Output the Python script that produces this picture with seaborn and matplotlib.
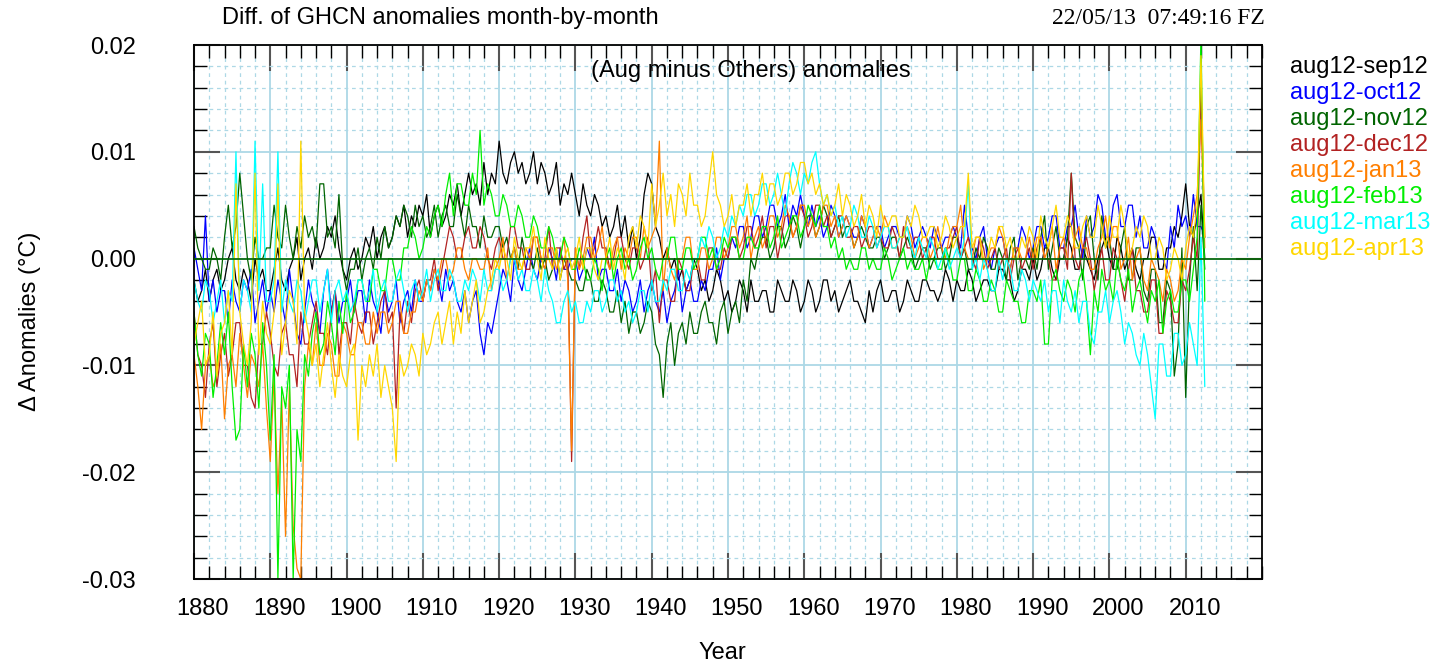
import numpy as np
import pandas as pd
import seaborn as sns
import matplotlib.pyplot as plt
import matplotlib.transforms as mtransforms
from matplotlib.ticker import MultipleLocator, FuncFormatter

# half-yearly readings, units of 1e-3 degC, 1880.0 .. 2012.5
YEARS = np.arange(1880, 2013, 0.5)

aug12_sep12 = [
    -2, -4, -3, -1, -4, -2, -1, -3, -2, 0, 1, -2, -3, -1, -2, -4, 0, -2, -1, -3,
    -3, -1, 1, -2, -3, -1, 0, 2, -2, 0, 1, -1, 2, 0, 1, 3, 2, 4, 1, -1,
    -2, 0, 1, -1, 0, 2, 1, 3, 0, 2, 3, 1, 2, 4, 3, 5, 2, 4, 3, 5,
    4, 6, 2, 4, 5, 3, 4, 6, 5, 7, 4, 6, 8, 6, 7, 5, 9, 6, 8, 7,
    11, 8, 7, 9, 10, 8, 9, 7, 8, 10, 7, 9, 8, 6, 7, 9, 5, 7, 6, 8,
    6, 4, 7, 5, 4, 6, 5, 3, 4, 2, 3, 5, 2, 4, 1, 3, 0, 2, 6, 8,
    7, 3, 2, 0, 1, -1, 0, -2, -1, -3, -2, 0, -1, -3, -2, -4, -3, -1, -2, -4,
    -3, -5, -4, -2, -3, -5, -2, -4, -4, -3, -3, -5, -5, -2, -3, -4, -4, -2, -3, -5,
    -4, -2, -3, -5, -4, -2, -2, -4, -3, -5, -4, -3, -2, -4, -4, -5, -6, -3, -5, -3,
    -2, -4, -4, -3, -3, -5, -4, -2, -3, -4, -4, -2, -2, -3, -3, -4, -3, -1, -2, -4,
    -2, -3, -3, -1, -2, -4, -3, -2, -2, -3, -3, -1, -1, -2, -2, -4, -3, -1, -1, -2,
    0, -2, -1, 1, 1, -1, -2, 0, 0, 2, 1, -1, -1, 1, 0, -1, -2, 0, 1, 2,
    0, -1, 2, 1, -1, 0, 1, -1, -2, 0, 0, 2, 2, -1, -1, 1, 1, 3, 2, 4,
    7, 3, 2, 4, 6, 0]
aug12_oct12 = [
    1, -1, -3, 4, -4, -2, -5, -3, -3, -6, -2, -4, -5, -2, -3, -1, -6, -4, -2, -5,
    -3, -5, -2, -4, -6, -1, -4, -7, -8, -5, -2, -4, -5, -7, -3, -1, -5, -3, -6, -4,
    -4, -2, -5, -3, -3, -6, -2, -4, -5, -7, -3, -5, -4, -2, -6, -4, -3, -5, -2, -4,
    -4, -2, -3, -1, -2, -4, -1, -3, -2, -4, -5, -3, -6, -4, -3, -7, -9, -6, -7, -5,
    -3, -1, -2, -4, 0, -2, -3, -1, 1, -1, -2, 0, -1, 1, 0, -2, 1, -1, -1, 0,
    0, -2, -1, 1, 0, 2, -2, -1, -1, -3, -3, -1, -4, -2, -3, -5, -4, -2, -5, -3,
    -2, -4, -5, -3, -6, -4, -3, -1, -5, -3, -2, -4, -4, -2, -3, -1, -1, 1, -2, 0,
    0, 2, 1, 3, 3, 1, 2, 4, 4, 2, 3, 5, 5, 3, 4, 6, 3, 5, 4, 6,
    4, 3, 5, 3, 4, 2, 3, 5, 4, 2, 3, 4, 3, 2, 2, 4, 3, 1, 2, 3,
    3, 1, 2, 3, 3, 2, 2, 4, 3, 1, 2, 3, 2, 1, 3, 2, 1, 2, 2, 3,
    2, 1, 5, 2, 1, 0, 2, 3, 0, -1, 1, 2, 2, 0, -1, 1, 1, 3, 2, 0,
    1, 3, 3, 1, 2, 4, 4, 1, 1, 3, 3, 5, 2, 0, 4, 2, 3, 6, 5, 2,
    2, 5, 6, 3, 3, 5, 5, 2, 4, 1, 1, 3, 2, 0, 0, -1, 3, 1, 5, 3,
    4, 2, 6, 3, 3, 2]
aug12_nov12 = [
    3, 1, 0, -1, -1, 1, 0, -2, 2, 5, 1, 3, 8, 4, 0, -2, 2, 0, 0, 1,
    1, 5, 2, 1, 5, 2, 0, 3, 1, 4, 2, 3, 1, 7, 7, 2, 3, 1, 6, -1,
    -3, -1, -1, 1, -2, 0, 1, -1, 2, 0, 3, 1, 2, 4, 3, 5, 4, 2, 5, 3,
    4, 2, 3, 5, 2, 4, 5, 3, 3, 6, 4, 2, 5, 3, 3, 1, 4, 2, 2, 3,
    3, 1, 2, 0, 1, -1, 2, 0, 0, -1, 1, -1, 0, -2, -1, 1, -2, 0, -1, -2,
    -2, -3, -3, -1, -2, -4, -4, -2, -3, -5, -5, -3, -6, -4, -7, -5, -5, -7, -6, -4,
    -5, -8, -9, -13, -8, -6, -10, -7, -6, -8, -5, -7, -7, -5, -4, -6, -6, -8, -5, -4,
    -7, -5, -4, -6, -2, -4, 0, -1, 1, 2, 2, 0, 1, 3, 3, 1, 2, 4, 3, 1,
    3, 4, 4, 2, 3, 5, 4, 2, 3, 4, 2, 3, 3, 1, 2, 3, 2, 1, 1, 2,
    2, 0, 1, 2, 2, 0, 1, 2, 1, -1, 0, 1, 1, -1, 0, 1, 1, -1, 0, 2,
    2, 0, 1, -1, -1, 1, 0, 2, 1, -1, -1, 1, 0, -2, 1, 2, -2, 0, 0, -1,
    1, -1, 2, 4, -1, 1, 3, 0, 0, 2, 8, 2, 1, -2, 3, 4, 0, -2, 4, 1,
    2, -1, -1, 1, 3, -2, -2, 1, 1, -3, -4, -1, -1, -6, -6, -2, -3, -11, -8, 1,
    -13, -2, 3, -3, 5, -1]
aug12_dec12 = [
    -5, -9, -10, -13, -8, -6, -12, -9, -7, -11, -9, -6, -6, -10, -10, -13, -14, -8, -8, -5,
    -7, -10, -11, -7, -6, -9, -9, -12, -5, -8, -8, -6, -4, -7, -7, -9, -5, -3, -9, -6,
    -6, -8, -4, -6, -7, -5, -5, -8, -6, -4, -3, -6, -5, -14, -5, -7, -4, -6, -3, -2,
    -4, -2, -2, 0, -3, -1, 1, 3, 2, 0, 0, 2, 3, 1, 1, 3, 2, 0, -1, 1,
    2, 0, 0, 3, 3, 1, 1, -1, -1, 2, 2, 0, 0, 3, -1, 1, 1, -1, 0, -19,
    1, -1, 2, 4, 0, 1, 3, 1, 1, -1, 0, 2, 2, 0, -1, 1, 1, -1, 0, 2,
    -3, -1, -6, -2, -2, -4, -4, 0, -1, -3, -3, 0, 0, -2, -2, 1, 1, -1, -1, 1,
    0, 2, 2, 0, 1, 3, 3, 1, 2, 4, 1, 3, 3, 0, 2, 4, 4, 2, 3, 5,
    4, 2, 3, 5, 5, 3, 4, 2, 3, 4, 4, 2, 2, 3, 3, 1, 2, 3, 3, 1,
    2, 1, 1, 3, 2, 0, 3, 1, 1, 2, 2, 0, 1, 2, 2, 0, 0, 1, 1, 2,
    3, 0, 1, 2, 0, -1, 2, 1, -1, 0, 1, -1, 0, 1, -2, 0, 1, -1, 0, 1,
    -1, 1, 2, 0, 0, -2, -2, 1, 1, -1, 8, 0, -1, 1, 2, 0, -3, -1, 1, -2,
    -2, 1, 0, -2, -4, -1, 1, -3, -3, -5, -5, -2, -2, -7, -7, -3, -4, -6, -6, -2,
    -3, -1, 2, 0, 16, 2]
aug12_jan13 = [
    -9, -12, -16, -10, -9, -12, -11, -8, -15, -10, -9, -12, -7, -10, -13, -9, -10, -12, -8, -14,
    -19, -11, -22, -13, -26, -12, -25, -29, -30, -12, -8, -10, -6, -10, -10, -7, -8, -11, -11, -6,
    -7, -9, -9, -6, -6, -8, -8, -5, -7, -5, -5, -7, -6, -4, -4, -7, -7, -5, -5, -3,
    -4, -2, -3, -1, -2, 0, 0, -2, -1, 1, 1, -1, -2, 0, 0, -1, -1, 1, -3, -1,
    0, 2, -2, 0, 1, -1, -1, 1, 0, 2, 2, 0, -1, 1, 1, -1, 0, 2, -2, -18,
    1, -1, 0, 2, 2, 0, 1, 3, 0, -1, 1, 2, -1, 1, 0, 2, 2, 0, 3, 1,
    2, 3, 11, -3, 1, -1, -2, 0, 0, 2, 2, -1, -1, 1, 1, -1, 0, 2, 2, 0,
    1, 3, 3, 1, 2, 4, 0, 2, 3, 1, 2, 4, 4, 2, 3, 5, 4, 2, 3, 5,
    5, 3, 4, 2, 3, 5, 5, 3, 4, 2, 3, 4, 3, 1, 2, 4, 3, 1, 2, 3,
    2, 4, 3, 1, 1, 2, 2, 3, 2, 0, 1, 2, 2, 0, 1, 3, 1, 0, 2, 3,
    3, 5, 1, 0, 0, 2, 2, -1, 0, 1, 1, 3, 2, 0, -1, 1, 1, 0, 0, 2,
    0, 2, 2, 0, 1, 3, -1, 1, 2, 0, 0, 2, 3, 1, 1, -1, -1, 1, 2, 4,
    1, 3, 3, -1, 0, 2, -2, 0, 1, -2, -3, 0, -1, -2, -4, -1, -2, -4, -3, 0,
    -1, 2, 4, 6, 13, 1]
aug12_feb13 = [
    -5, -9, -11, -7, -8, -13, -10, -6, -9, -5, -12, -17, -16, -8, -12, -7, -9, -14, -6, -10,
    -17, -9, -30, -12, -14, -10, -30, -16, -19, -9, -11, -7, -5, -9, -8, -4, -6, -9, -4, -7,
    -3, -6, -5, -2, -2, -4, -4, -1, -1, -3, -3, 0, 0, -2, -2, 1, 1, 3, 2, 0,
    1, 3, 2, 4, 5, 3, 6, 8, 4, 7, 7, 5, 5, 8, 6, 12, 5, 7, 6, 4,
    4, 6, 5, 3, 3, 5, 4, 2, 2, 4, 3, 1, 1, 3, 2, 0, 0, 2, 1, -1,
    -1, 1, 0, -2, -2, 0, -1, -3, 0, 1, -2, 0, 1, -1, 0, -2, -1, 1, 2, 0,
    1, -1, -2, 0, 0, 2, 2, -1, -1, 1, 1, -1, 0, 2, 2, 0, 1, -1, 0, 2,
    1, 2, 2, 0, 0, 2, 2, 1, 1, 3, 3, 1, 2, 4, 1, 2, 3, 4, 4, 2,
    3, 5, 4, 3, 5, 3, 3, 1, 2, 0, 1, -1, 0, -1, -1, 1, 1, -1, 0, -1,
    -1, 1, 0, -2, -1, 0, 1, -1, 0, -1, -1, 0, -2, 0, 0, -1, -1, 1, 0, -2,
    -2, 0, 0, -3, -3, -1, -2, -4, -4, -2, -3, -5, -5, -2, -3, -4, -4, -6, -6, -3,
    -3, -4, -2, -8, -8, -2, -1, -3, -4, -2, -3, -5, -2, -1, -4, -9, -3, -5, -1, -3,
    -2, -4, 0, -2, -3, -1, -5, -3, -2, -4, -6, -3, -4, -2, -7, -4, -3, -5, -5, -2,
    -2, -4, -1, 2, 21, -4]
aug12_mar13 = [
    -2, -4, -5, -2, -3, -6, -4, -2, -6, -3, -4, 10, -5, -2, -3, -5, 11, -3, 7, -4,
    -4, -2, 10, -5, -2, -4, -5, -2, -3, -6, -4, -2, -2, -5, -3, -1, -6, -3, -2, -4,
    -3, -5, -4, -2, -2, -4, -3, -1, -5, -3, -2, -4, -4, -2, -1, -3, -5, -3, -2, -4,
    -3, -1, -4, -2, -1, -3, -3, -1, -2, -4, -4, -2, -3, -1, -2, -4, -1, -3, -3, -1,
    -1, -3, -2, 0, 0, -2, -1, -3, -3, -1, -2, -4, -1, -3, -4, -6, -6, -4, -3, -5,
    -4, -6, -6, -4, -5, -3, -3, -5, -4, -2, -2, -4, -3, -5, -4, -6, -5, -3, -3, -5,
    -2, -4, -4, -2, -3, -1, -1, -3, -3, -1, -2, 0, 0, 2, 1, 3, 2, 0, 1, 3,
    2, 4, 3, 5, 4, 6, 6, 4, 5, 7, 7, 5, 6, 8, 6, 4, 7, 9, 8, 6,
    8, 7, 9, 10, 7, 5, 6, 4, 5, 3, 4, 2, 3, 5, 4, 2, 2, 4, 3, 1,
    2, 3, 3, 1, 1, 2, 2, 3, 1, 0, 2, 1, 0, 2, 1, -1, 0, 1, -1, 0,
    1, 0, 2, 7, -1, 0, -2, 0, -1, -3, -3, 0, -2, 0, -1, -3, -3, -1, -2, -4,
    -2, -3, -4, -2, -5, -3, -3, -6, -2, -4, -5, -3, -6, -4, -4, -7, -8, -5, -5, -3,
    -6, -4, -3, -5, -8, -6, -7, -9, -10, -7, -9, -12, -15, -8, -8, -11, -11, -7, -7, -10,
    -9, -6, -8, -10, 2, -12]
aug12_apr13 = [
    -8, -6, -4, -10, -9, -5, -11, -7, -6, -3, -9, 7, -5, -8, -10, -6, 8, -9, -4, -7,
    -8, -5, 7, -9, -6, -3, -4, -8, 11, -5, -7, -10, -8, -12, -9, -6, -10, -13, -9, -11,
    -12, -9, -8, -17, -10, -12, -9, -11, -8, -13, -10, -12, -14, -19, -9, -11, -10, -8, -9, -11,
    -7, -9, -8, -6, -5, -8, -6, -4, -8, -5, -7, -3, -6, -4, -2, -6, -5, -3, -2, 0,
    -1, 1, 0, -2, 2, 0, -1, 1, 1, 3, 0, -2, 2, 0, -1, 1, -2, 0, 1, -1,
    0, 2, -1, 1, 1, -1, -2, 0, 0, 2, -1, 1, 0, -2, 2, 3, 1, 4, 3, 1,
    7, 3, 5, 8, 4, 6, 3, 7, 6, 4, 8, 5, 5, 3, 4, 7, 10, 6, 5, 3,
    4, 6, 3, 5, 5, 7, 4, 6, 6, 8, 5, 7, 7, 5, 6, 8, 8, 6, 7, 9,
    9, 7, 8, 6, 7, 5, 6, 4, 5, 7, 4, 6, 5, 3, 4, 6, 3, 5, 4, 2,
    5, 3, 3, 4, 4, 2, 2, 4, 3, 5, 4, 2, 2, 3, 3, 1, 2, 4, 3, 1,
    2, 3, 3, 8, 1, 2, 2, 0, 0, 2, 1, 3, 3, 1, 2, 0, 0, 2, 1, 3,
    2, 0, 4, 2, 1, 3, 5, 2, 2, 4, 3, 1, 1, 3, 4, 2, 2, 5, 3, 1,
    4, 2, 2, 5, 3, 0, 1, 3, 2, 4, 3, 0, 0, 2, 1, -2, -1, 1, 0, -2,
    1, 3, 2, 5, 19, 2]

SERIES = {
    'aug12-sep12': aug12_sep12,
    'aug12-oct12': aug12_oct12,
    'aug12-nov12': aug12_nov12,
    'aug12-dec12': aug12_dec12,
    'aug12-jan13': aug12_jan13,
    'aug12-feb13': aug12_feb13,
    'aug12-mar13': aug12_mar13,
    'aug12-apr13': aug12_apr13,
}
COLORS = ['#000000', '#0000ff', '#006400', '#b22222',
          '#ff7f00', '#00ee00', '#00ffff', '#ffd700']

W, H = 1453, 668


def _long_frame():
    frames = []
    for name, vals in SERIES.items():
        assert len(vals) == len(YEARS), (name, len(vals))
        frames.append(pd.DataFrame({
            'year': YEARS,
            'anomaly': np.asarray(vals, dtype=float) * 1e-3,
            'series': name,
        }))
    return pd.concat(frames, ignore_index=True)


def _style_axes(ax, fig):
    ax.set_xlim(1880, 2020)
    ax.set_ylim(-0.03, 0.02)
    ax.set_xticks(range(1880, 2011, 10))
    ax.xaxis.set_minor_locator(MultipleLocator(2))
    ax.yaxis.set_major_locator(MultipleLocator(0.01))
    ax.yaxis.set_minor_locator(MultipleLocator(0.002))
    ax.yaxis.set_major_formatter(FuncFormatter(lambda v, p: '%.2f' % (round(v, 2) + 0.0)))
    ax.set_xlabel('')
    ax.set_ylabel('')
    ax.set_axisbelow(True)
    ax.grid(which='major', color='#add8e6', lw=1.3, ls='-')
    ax.grid(which='minor', color='#add8e6', lw=0.9, ls=(0, (3, 3)))
    ax.tick_params(which='both', direction='in', top=True, right=True,
                   labelsize=17, labelcolor='black')
    ax.tick_params(which='major', length=19, width=1.5, color='#555555')
    ax.tick_params(which='minor', length=9.5, width=1.0, color='black')
    ax.tick_params(axis='y', which='major', pad=42)
    ax.tick_params(axis='x', which='major', pad=14)
    for side in ax.spines.values():
        side.set_linewidth(1.3)
        side.set_color('black')
    shift = mtransforms.ScaledTranslation(9 / 100, 0, fig.dpi_scale_trans)
    for lab in ax.get_xticklabels():
        lab.set_transform(lab.get_transform() + shift)


def main():
    sns.set_style('ticks')
    plt.rcParams['font.family'] = ['Liberation Sans', 'DejaVu Sans']
    plt.rcParams['text.color'] = 'black'

    df = _long_frame()
    fig = plt.figure(figsize=(W / 100, H / 100), dpi=100)
    ax = fig.add_axes([194 / W, 1 - 579 / H, (1262 - 194) / W, (579 - 45) / H])

    sns.lineplot(data=df, x='year', y='anomaly', hue='series',
                 hue_order=list(SERIES), palette=COLORS,
                 estimator=None, sort=False, lw=0.9, legend=False, ax=ax)
    ax.axhline(0, color='#006400', lw=1.2, zorder=5)
    _style_axes(ax, fig)

    fig.text(222 / W, 1 - 18 / H, 'Diff. of GHCN anomalies month-by-month',
             fontsize=17, va='center', ha='left')
    fig.text(1265 / W, 1 - 18 / H, '22/05/13  07:49:16 FZ',
             fontsize=17, va='center', ha='right',
             family=['Liberation Serif', 'DejaVu Serif'])
    fig.text(751 / W, 1 - 71 / H, '(Aug minus Others) anomalies',
             fontsize=17, va='center', ha='center')
    fig.text(30 / W, 1 - 321 / H, '\u0394 Anomalies (\u00b0C)',
             fontsize=17, va='center', ha='center', rotation=90)
    fig.text(722 / W, 1 - 653 / H, 'Year', fontsize=17, va='center', ha='center')

    for i, (name, col) in enumerate(zip(SERIES, COLORS)):
        fig.text(1290 / W, 1 - (67 + 26 * i) / H, name, color=col,
                 fontsize=17, va='center', ha='left')

    fig.savefig('out.png', dpi=100)


if __name__ == '__main__':
    main()
